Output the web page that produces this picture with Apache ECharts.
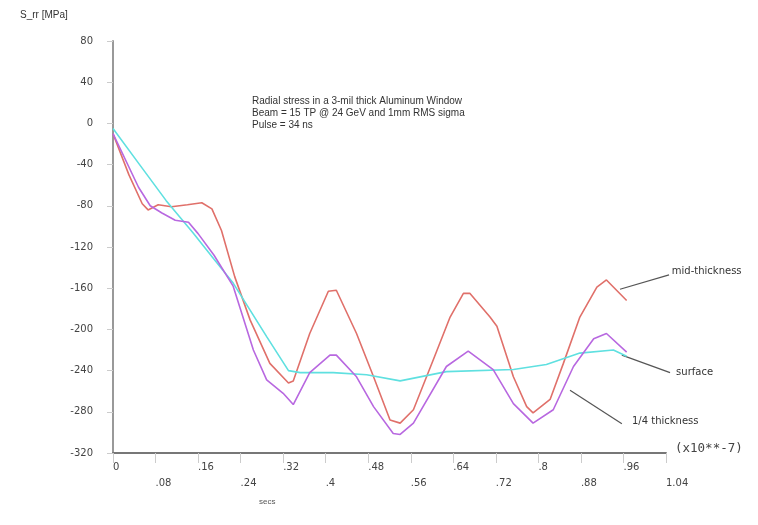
<!DOCTYPE html>
<html><head><meta charset="utf-8">
<script src="https://cdn.jsdelivr.net/npm/echarts@6/dist/echarts.min.js"></script>
<style>html,body{margin:0;padding:0;background:#fff}#c{width:758px;height:525px}</style>
</head><body><div id="c"></div>
<script>
// x tick labels (units of 1e-7 s)
const xTickLabels = ['0','.08','.16','.24','.32','.4','.48','.56','.64','.72','.8','.88','.96','1.04'];

// mid-thickness
const midTimes  = [0,0.03,0.055,0.066,0.085,0.11,0.14,0.167,0.186,0.204,0.229,0.258,0.295,0.33,0.339,0.37,0.405,0.42,0.458,0.49,0.521,0.54,0.565,0.602,0.634,0.659,0.671,0.709,0.722,0.753,0.778,0.79,0.822,0.847,0.878,0.91,0.928,0.966];
const midValues = [-10,-50,-78,-84,-79,-81,-79,-77,-83,-104,-149,-191,-233,-252,-250,-204,-163,-162,-204,-246,-288,-291,-278,-230,-188,-165,-165,-188,-197,-246,-275,-281,-268,-233,-188,-159,-152,-172];

// 1/4 thickness
const quarterTimes  = [0,0.048,0.07,0.092,0.117,0.142,0.16,0.19,0.226,0.264,0.289,0.32,0.339,0.37,0.408,0.42,0.458,0.49,0.527,0.54,0.565,0.627,0.668,0.715,0.753,0.79,0.828,0.866,0.904,0.928,0.966];
const quarterValues = [-10,-62,-80,-87,-94,-96,-107,-128,-158,-220,-249,-262,-273,-242,-225,-225,-246,-275,-301,-302,-291,-236,-221,-239,-272,-291,-278,-236,-209,-204,-222];

// surface
const surfTimes  = [0,0.05,0.1,0.15,0.19,0.226,0.289,0.33,0.352,0.414,0.477,0.54,0.627,0.753,0.815,0.878,0.941,0.966];
const surfValues = [-5,-40,-75,-106,-132,-155,-207,-240,-242,-242,-244,-250,-241,-239,-234,-223,-220,-226];

// series label anchors [time, value] and leader lines
const seriesNames = ['mid-thickness','surface','1/4 thickness'];
const labelAnchors = [[1.051,-144],[1.059,-242],[0.976,-289]];
const leaderLines = [
  [[0.9535,-161],[1.0457,-147]],
  [[0.957,-225],[1.0476,-242]],
  [[0.8595,-259],[0.957,-291.5]]
];

const zip = (t, v) => t.map((x, i) => [x, v[i]]);

const chart = echarts.init(document.getElementById('c'), null, {renderer: 'canvas'});
const lineStyle = (c) => ({color: c, width: 1.6});
chart.setOption({
  animation: false,
  backgroundColor: '#fff',
  grid: {left: 113, right: 92, top: 41, bottom: 72, containLabel: false},
  xAxis: {
    type: 'value', min: 0, max: 1.04, interval: 0.08,
    axisLine: {show: true, onZero: false, lineStyle: {color: '#777', width: 2}},
    axisTick: {show: true, length: 10, lineStyle: {color: '#ccc', width: 1}},
    splitLine: {show: false},
    axisLabel: {
      align: 'left', margin: 6, fontSize: 10, fontFamily: 'DejaVu Sans', color: '#444', lineHeight: 16,
      formatter: (v) => {
        const idx = Math.round(v / 0.08);
        const s = xTickLabels[idx] || '';
        return idx % 2 === 1 ? '\n' + s : s;
      }
    }
  },
  yAxis: {
    type: 'value', min: -320, max: 80, interval: 40,
    axisLine: {show: true, onZero: false, lineStyle: {color: '#999', width: 2}},
    axisTick: {show: true, length: 6, lineStyle: {color: '#ccc', width: 1}},
    splitLine: {show: false},
    axisLabel: {margin: 20, fontSize: 10, fontFamily: 'DejaVu Sans', color: '#444'}
  },
  series: [
    {name: 'mid-thickness', type: 'line', data: zip(midTimes, midValues), showSymbol: false, lineStyle: lineStyle('#e0706a')},
    {name: 'surface', type: 'line', data: zip(surfTimes, surfValues), showSymbol: false, lineStyle: lineStyle('#5fe0e0')},
    {name: '1/4 thickness', type: 'line', data: zip(quarterTimes, quarterValues), showSymbol: false, lineStyle: lineStyle('#b868e0')}
  ]
});

const px = (p) => chart.convertToPixel({gridIndex: 0}, p);
const graphics = [
  {type: 'text', left: 20, top: 10, style: {text: 'S_rr [MPa]', fontSize: 10, fontFamily: 'Liberation Sans', fill: '#333'}},
  {type: 'text', left: 259, top: 498, style: {text: 'secs', fontSize: 8, fontFamily: 'Liberation Sans', fill: '#555'}},
  {type: 'text', left: 675, top: 442, style: {text: '(x10**-7)', fontSize: 12.5, fontFamily: 'DejaVu Sans Mono', fill: '#444'}},
  {type: 'text', left: 252, top: 95, style: {text: 'Radial stress in a 3-mil thick Aluminum Window\nBeam = 15 TP @ 24 GeV and 1mm RMS sigma\nPulse = 34 ns', fontSize: 10, lineHeight: 12, fontFamily: 'Liberation Sans', fill: '#333'}}
];
leaderLines.forEach((ln) => {
  const a = px(ln[0]), b = px(ln[1]);
  graphics.push({type: 'line', shape: {x1: a[0], y1: a[1], x2: b[0], y2: b[1]}, style: {stroke: '#555', lineWidth: 1.2}});
});
labelAnchors.forEach((p, i) => {
  const q = px(p);
  graphics.push({type: 'text', x: q[0], y: q[1], style: {text: seriesNames[i], fontSize: 10, fontFamily: 'DejaVu Sans', fill: '#333', verticalAlign: 'middle', align: 'left'}});
});
chart.setOption({graphic: graphics});
</script>
</body></html>
